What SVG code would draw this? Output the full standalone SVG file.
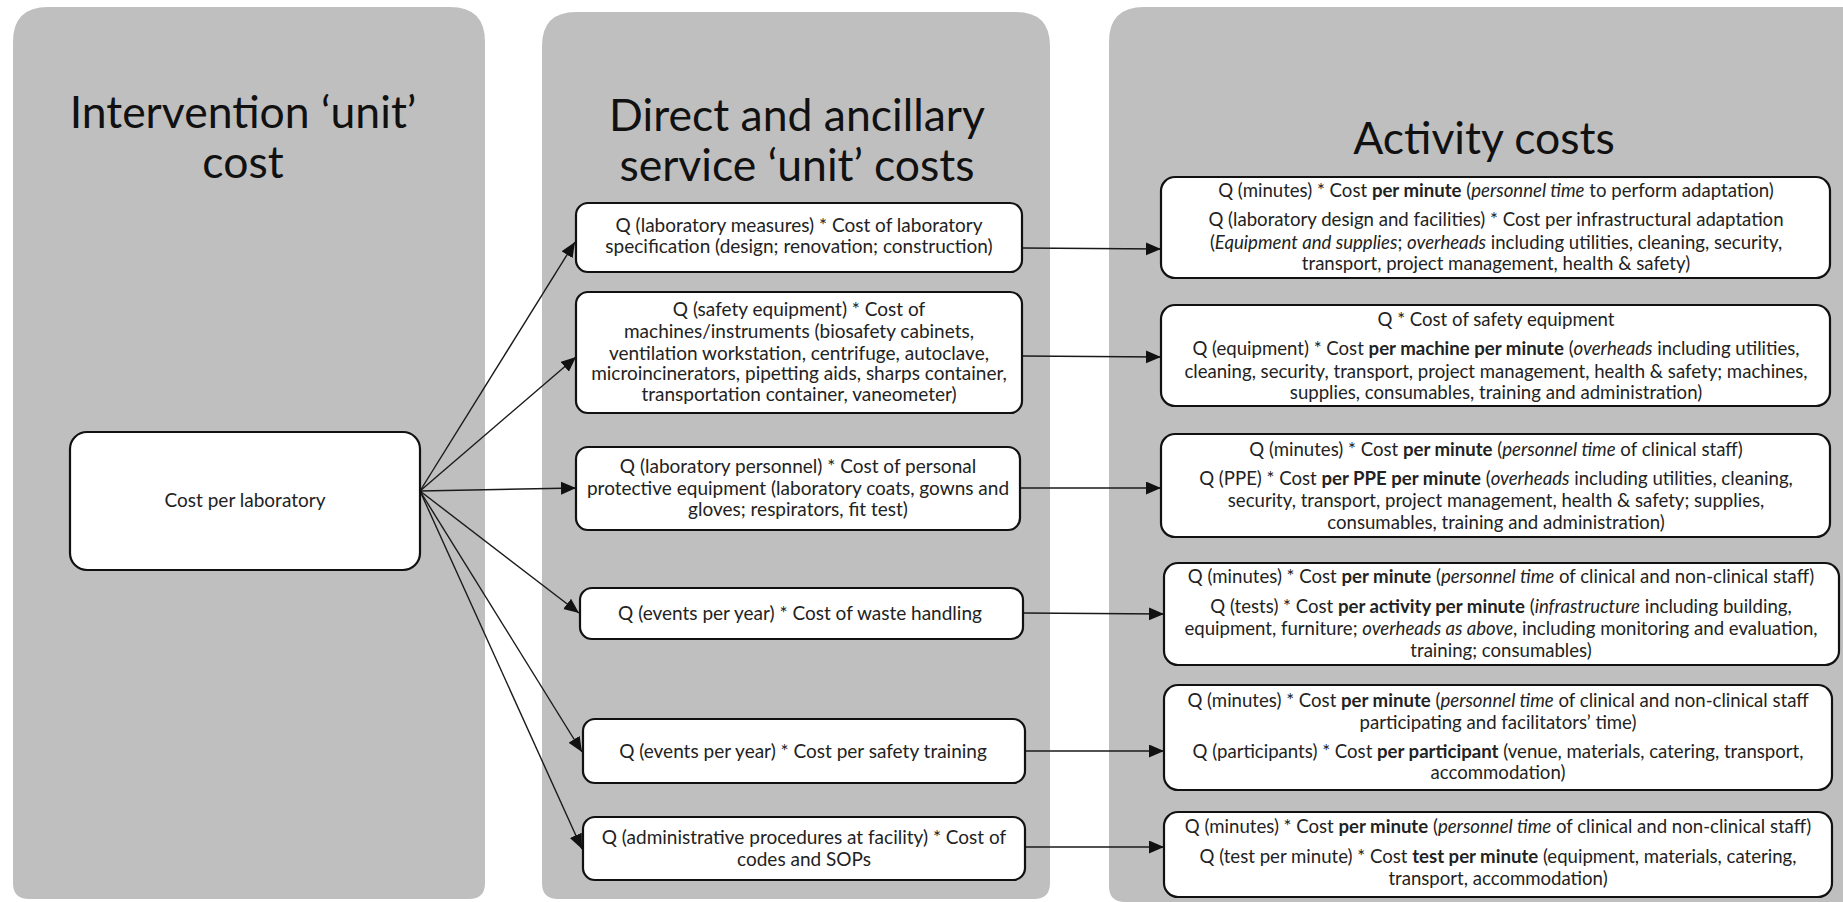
<svg xmlns="http://www.w3.org/2000/svg" width="1843" height="902" viewBox="0 0 1843 902">
<style>
.panel{fill:#bfbfbf}
.title{font-family:Lato,"Liberation Sans",sans-serif;font-size:44.5px;fill:#111;text-anchor:middle}
.box{fill:#fff;stroke:#111;stroke-width:2.2}
.mid{font-family:Lato,"Liberation Sans",sans-serif;font-size:19px;fill:#222;text-anchor:middle}
.rt{font-family:Lato,"Liberation Sans",sans-serif;font-size:18.6px;fill:#222;text-anchor:middle}
.b{font-weight:bold}
.i{font-style:italic}
.conn{stroke:#1a1a1a;stroke-width:1.4;fill:none;marker-end:url(#ah)}
</style>
<defs>
<marker id="ah" markerUnits="userSpaceOnUse" markerWidth="16" markerHeight="14" refX="15" refY="6.5" orient="auto">
<path d="M0,0 L15,6.5 L0,13 z" fill="#111"/>
</marker>
</defs>
<rect width="1843" height="902" fill="#fff"/>
<g id="panels">
<path class="panel" d="M13,899 L13,42 Q13,7 48,7 L450,7 Q485,7 485,42 L485,883 Q485,899 469,899 L29,899 Q13,899 13,883 Z"/>
<path class="panel" d="M542,899 L542,46 Q542,12 576,12 L1016,12 Q1050,12 1050,46 L1050,883 Q1050,899 1034,899 L558,899 Q542,899 542,883 Z"/>
<path class="panel" d="M1109,899 L1109,42 Q1109,7 1144,7 L1843,7 L1843,902 L1125,902 Q1109,902 1109,886 Z"/>
</g>
<g id="titles">
<text class="title" x="243" y="128">Intervention ‘unit’</text>
<text class="title" x="243" y="178">cost</text>
<text class="title" x="797" y="131">Direct and ancillary</text>
<text class="title" x="797" y="181">service ‘unit’ costs</text>
<text class="title" x="1484" y="154">Activity costs</text>
</g>
<g id="connectors">
<line class="conn" x1="420" y1="491" x2="575" y2="242"/>
<line class="conn" x1="420" y1="491" x2="576" y2="357"/>
<line class="conn" x1="420" y1="491" x2="576" y2="488"/>
<line class="conn" x1="420" y1="491" x2="579" y2="613"/>
<line class="conn" x1="420" y1="491" x2="582" y2="752"/>
<line class="conn" x1="420" y1="491" x2="582" y2="849"/>
<line class="conn" x1="1022" y1="248" x2="1161" y2="249"/>
<line class="conn" x1="1022" y1="356" x2="1161" y2="357"/>
<line class="conn" x1="1020" y1="488" x2="1161" y2="488"/>
<line class="conn" x1="1023" y1="613" x2="1164" y2="614"/>
<line class="conn" x1="1025" y1="751" x2="1164" y2="751"/>
<line class="conn" x1="1025" y1="847" x2="1164" y2="847"/>
</g>
<g id="n-lab">
<rect class="box" x="70" y="432" width="350" height="138" rx="17"/>
<text class="mid" x="245" y="507">Cost per laboratory</text>
</g>
<g id="m1">
<rect class="box" x="576" y="203" width="446" height="69" rx="12"/>
<text class="mid" x="799" y="232">Q (laboratory measures) * Cost of laboratory</text>
<text class="mid" x="799" y="253">specification (design; renovation; construction)</text>
</g>
<g id="m2">
<rect class="box" x="576" y="292" width="446" height="121" rx="12"/>
<text class="mid" x="799" y="316">Q (safety equipment) * Cost of</text>
<text class="mid" x="799" y="338">machines/instruments (biosafety cabinets,</text>
<text class="mid" x="799" y="360">ventilation workstation, centrifuge, autoclave,</text>
<text class="mid" x="799" y="380">microincinerators, pipetting aids, sharps container,</text>
<text class="mid" x="799" y="401">transportation  container, vaneometer)</text>
</g>
<g id="m3">
<rect class="box" x="576" y="447" width="444" height="83" rx="12"/>
<text class="mid" x="798" y="473">Q (laboratory personnel) * Cost of personal</text>
<text class="mid" x="798" y="495">protective equipment  (laboratory coats, gowns and</text>
<text class="mid" x="798" y="516">gloves; respirators, fit test)</text>
</g>
<g id="m4">
<rect class="box" x="580" y="588" width="443" height="51" rx="12"/>
<text class="mid" x="800" y="620">Q (events per year) * Cost of waste handling</text>
</g>
<g id="m5">
<rect class="box" x="583" y="719" width="442" height="64" rx="12"/>
<text class="mid" x="803" y="758">Q (events per year) * Cost per safety training</text>
</g>
<g id="m6">
<rect class="box" x="583" y="817" width="442" height="63" rx="12"/>
<text class="mid" x="804" y="844">Q (administrative procedures at facility) * Cost of</text>
<text class="mid" x="804" y="866">codes and SOPs</text>
</g>
<g id="r1">
<rect class="box" x="1161" y="177" width="669" height="101" rx="14"/>
<text class="rt" x="1496" y="197">Q (minutes) * Cost <tspan class="b">per minute</tspan> (<tspan class="i">personnel time</tspan> to perform adaptation)</text>
<text class="rt" x="1496" y="226">Q (laboratory design and facilities) * Cost per infrastructural adaptation</text>
<text class="rt" x="1496" y="249">(<tspan class="i">Equipment and supplies</tspan>; <tspan class="i">overheads</tspan> including utilities, cleaning, security,</text>
<text class="rt" x="1496" y="270">transport, project management, health &amp; safety)</text>
</g>
<g id="r2">
<rect class="box" x="1161" y="305" width="669" height="101" rx="14"/>
<text class="rt" x="1496" y="326">Q * Cost of safety equipment</text>
<text class="rt" x="1496" y="355">Q (equipment) * Cost <tspan class="b">per machine per minute</tspan> (<tspan class="i">overheads</tspan> including utilities,</text>
<text class="rt" x="1496" y="378">cleaning, security, transport, project management, health &amp; safety; machines,</text>
<text class="rt" x="1496" y="399">supplies, consumables, training and administration)</text>
</g>
<g id="r3">
<rect class="box" x="1161" y="434" width="669" height="103" rx="14"/>
<text class="rt" x="1496" y="456">Q (minutes) * Cost <tspan class="b">per minute</tspan> (<tspan class="i">personnel time</tspan> of clinical staff)</text>
<text class="rt" x="1496" y="485">Q (PPE) * Cost <tspan class="b">per PPE per minute</tspan> (<tspan class="i">overheads</tspan> including utilities, cleaning,</text>
<text class="rt" x="1496" y="507">security, transport, project management, health &amp; safety; supplies,</text>
<text class="rt" x="1496" y="529">consumables, training and administration)</text>
</g>
<g id="r4">
<rect class="box" x="1164" y="563" width="675" height="102" rx="14"/>
<text class="rt" x="1501" y="583">Q (minutes) * Cost <tspan class="b">per minute</tspan> (<tspan class="i">personnel time</tspan> of clinical and non-clinical staff)</text>
<text class="rt" x="1501" y="613">Q (tests) * Cost <tspan class="b">per activity per minute</tspan> (<tspan class="i">infrastructure</tspan> including building,</text>
<text class="rt" x="1501" y="635">equipment,  furniture; <tspan class="i">overheads as above</tspan>, including monitoring and evaluation,</text>
<text class="rt" x="1501" y="657">training; consumables)</text>
</g>
<g id="r5">
<rect class="box" x="1164" y="685" width="668" height="105" rx="14"/>
<text class="rt" x="1498" y="707">Q (minutes) * Cost <tspan class="b">per minute</tspan> (<tspan class="i">personnel time</tspan> of clinical and non-clinical staff</text>
<text class="rt" x="1498" y="729">participating and facilitators’ time)</text>
<text class="rt" x="1498" y="758">Q (participants) * Cost <tspan class="b">per participant</tspan> (venue, materials, catering, transport,</text>
<text class="rt" x="1498" y="779">accommodation)</text>
</g>
<g id="r6">
<rect class="box" x="1164" y="812" width="668" height="85" rx="14"/>
<text class="rt" x="1498" y="833">Q (minutes) * Cost <tspan class="b">per minute</tspan> (<tspan class="i">personnel time</tspan> of clinical and non-clinical staff)</text>
<text class="rt" x="1498" y="863">Q (test per minute) * Cost <tspan class="b">test per minute</tspan> (equipment, materials, catering,</text>
<text class="rt" x="1498" y="885">transport, accommodation)</text>
</g>
</svg>
